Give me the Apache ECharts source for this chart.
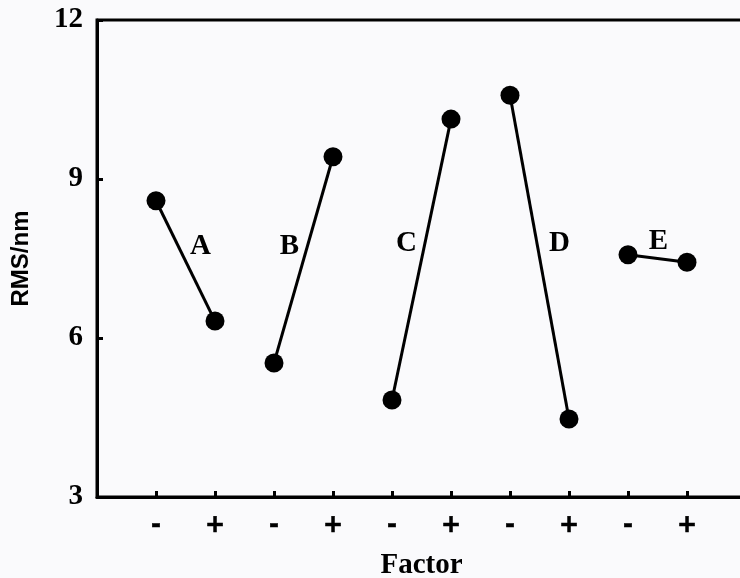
<!DOCTYPE html>
<html>
<head>
<meta charset="utf-8">
<script src="https://cdn.jsdelivr.net/npm/echarts@6/dist/echarts.min.js"></script>
<style>
html,body{margin:0;padding:0;background:#fafafc;}
#c{width:740px;height:578px;}
</style>
</head>
<body>
<div id="c"></div>
<script>
// Data
const factors = ['A', 'B', 'C', 'D', 'E'];
const levelLabels = ['-', '+', '-', '+', '-', '+', '-', '+', '-', '+'];
const lowValues = [8.59, 5.53, 4.83, 10.58, 7.57];
const highValues = [6.32, 9.42, 10.13, 4.47, 7.43];
const yTicks = [3, 6, 9, 12];

// label offsets (style only)
const labelOffsets = [[15, -14], [-14, -13], [-15, -16], [20, -14], [1, -17]];

const series = factors.map((f, i) => {
  const x0 = 2 * i + 1, x1 = 2 * i + 2;
  return {
    type: 'line',
    data: [[x0, lowValues[i]], [x1, highValues[i]]],
    symbol: 'circle',
    symbolSize: 19,
    lineStyle: { color: '#000', width: 3 },
    itemStyle: { color: '#000' },
    silent: true,
    animation: false,
    markPoint: {
      symbol: 'circle',
      symbolSize: 0,
      silent: true,
      data: [{
        coord: [(x0 + x1) / 2, (lowValues[i] + highValues[i]) / 2],
        label: {
          show: true,
          formatter: f,
          offset: labelOffsets[i],
          color: '#000',
          fontFamily: 'Liberation Serif',
          fontWeight: 'bold',
          fontSize: 29
        }
      }]
    }
  };
});

const chart = echarts.init(document.getElementById('c'));
chart.setOption({
  backgroundColor: '#fafafc',
  animation: false,
  grid: { left: 97, top: 20, width: 649, height: 477, show: true, borderColor: '#000', borderWidth: 3, containLabel: false, outerBoundsMode: 'none' },
  xAxis: {
    type: 'value',
    min: 0, max: 11, interval: 1,
    name: 'Factor',
    nameLocation: 'middle',
    nameGap: 54,
    nameTextStyle: { fontFamily: 'Liberation Serif', fontWeight: 'bold', fontSize: 29, color: '#000' },
    axisLine: { show: true, lineStyle: { color: '#000', width: 3 } },
    axisTick: { show: true, inside: true, length: 6, lineStyle: { color: '#000', width: 3 } },
    splitLine: { show: false },
    axisLabel: {
      formatter: v => levelLabels[v - 1] || '',
      margin: 17,
      color: '#000',
      fontFamily: 'DejaVu Sans',
      fontWeight: 'bold',
      fontSize: 24,
      textBorderColor: '#000',
      textBorderWidth: 0.6
    }
  },
  yAxis: {
    type: 'value',
    min: yTicks[0], max: yTicks[yTicks.length - 1], interval: 3,
    name: 'RMS/nm',
    nameLocation: 'middle',
    nameGap: 64,
    nameTextStyle: { fontFamily: 'Liberation Sans', fontWeight: 'bold', fontSize: 24, color: '#000' },
    axisLine: { show: true, lineStyle: { color: '#000', width: 3 } },
    axisTick: { show: true, inside: true, length: 6, lineStyle: { color: '#000', width: 3 } },
    splitLine: { show: false },
    axisLabel: {
      margin: 14,
      color: '#000',
      fontFamily: 'Liberation Serif',
      fontWeight: 'bold',
      fontSize: 29
    }
  },
  series: series
});
</script>
</body>
</html>
